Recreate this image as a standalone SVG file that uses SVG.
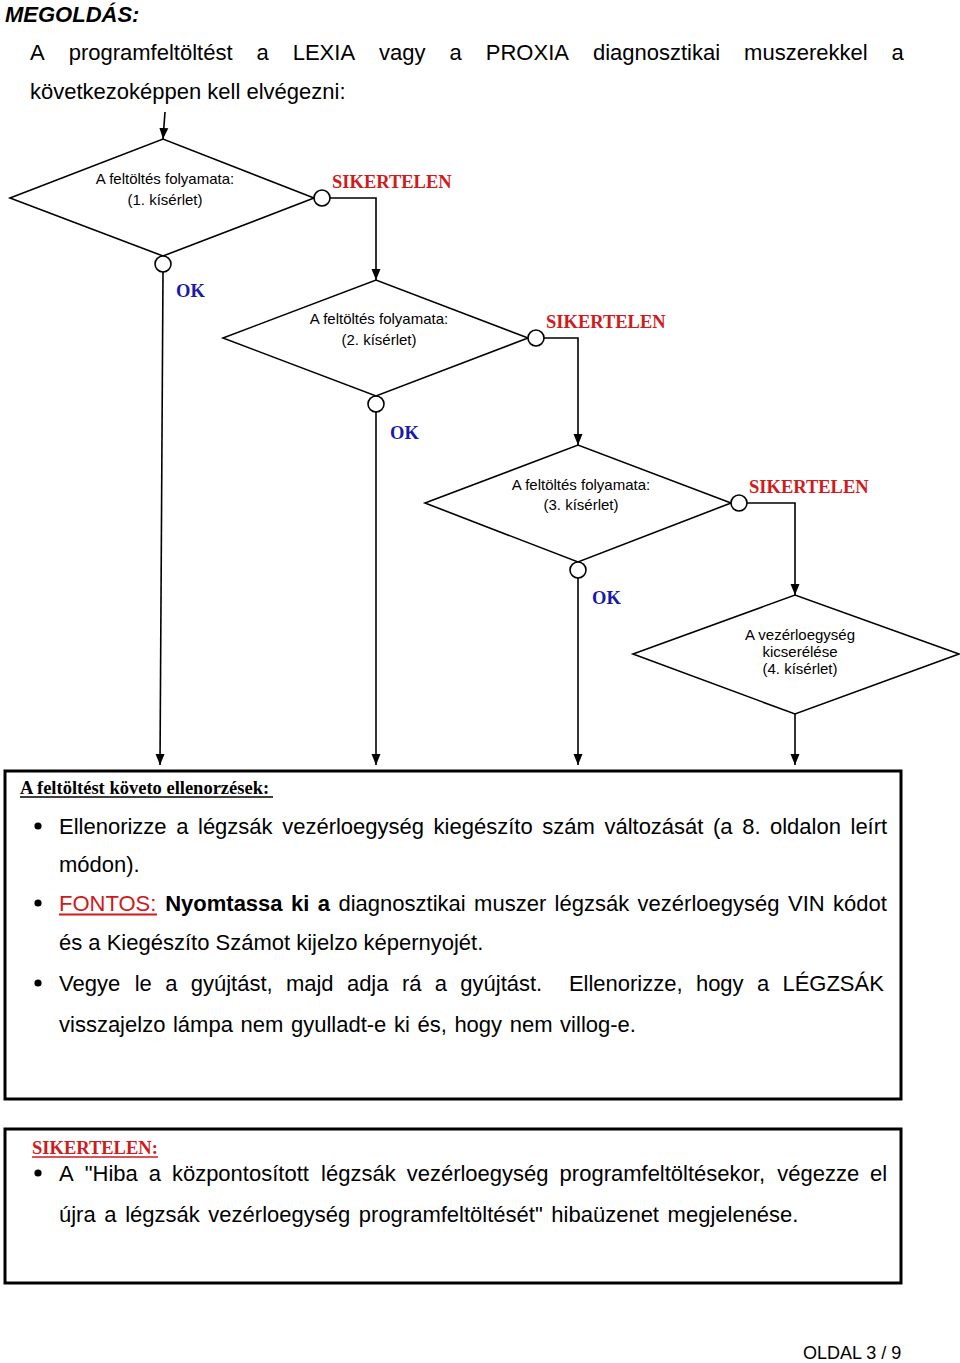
<svg xmlns="http://www.w3.org/2000/svg" width="960" height="1363" viewBox="0 0 960 1363">
<style>
.bg{fill:#ffffff}
.sans{font-family:"Liberation Sans",Arial,sans-serif;fill:#000}
.body{font-size:22px}
.dia{font-size:15px;text-anchor:middle}
.serif{font-family:"Liberation Serif","Times New Roman",serif;font-weight:bold;font-size:18.5px}
.red{fill:#d01a1c}
.blue{fill:#1a1aa8}
.shape{fill:#fff;stroke:#000;stroke-width:1.6}
.port{fill:#fff;stroke:#000;stroke-width:1.6}
.conn{fill:none;stroke:#000;stroke-width:1.6}
.box{fill:none;stroke:#000;stroke-width:3}
.bul{fill:#000}
</style>
<defs>
<marker id="arr" markerUnits="userSpaceOnUse" markerWidth="12" markerHeight="12" viewBox="0 0 12 12" refX="11" refY="6" orient="auto">
<path d="M0,1.5 L11,6 L0,10.5 Z" fill="#000"/>
</marker>
</defs>
<rect class="bg" x="0" y="0" width="960" height="1363"/>

<g id="header">
<text class="sans" x="5" y="22" font-size="22" font-weight="bold" font-style="italic">MEGOLDÁS:</text>
<text class="sans body" y="60"><tspan x="30">A</tspan><tspan x="68.7">programfeltöltést</tspan><tspan x="256.5">a</tspan><tspan x="292.7">LEXIA</tspan><tspan x="379.1">vagy</tspan><tspan x="449.6">a</tspan><tspan x="485.8">PROXIA</tspan><tspan x="592.9">diagnosztikai</tspan><tspan x="744.1">muszerekkel</tspan><tspan x="891.6">a</tspan></text>
<text class="sans body" x="30" y="99">következoképpen kell elvégezni:</text>
</g>

<g id="connectors">
<line class="conn" x1="165" y1="112" x2="163" y2="139" marker-end="url(#arr)"/>
<polyline class="conn" points="330,198 376,198 376,280" marker-end="url(#arr)"/>
<polyline class="conn" points="163,272 160,765" marker-end="url(#arr)"/>
<polyline class="conn" points="544,338 578,338 578,445" marker-end="url(#arr)"/>
<polyline class="conn" points="376,412 376,765" marker-end="url(#arr)"/>
<polyline class="conn" points="747,503 795,503 795,595" marker-end="url(#arr)"/>
<polyline class="conn" points="578,578 578,765" marker-end="url(#arr)"/>
<polyline class="conn" points="795,714 795,765" marker-end="url(#arr)"/>
<text class="serif red" x="332" y="188">SIKERTELEN</text>
<text class="serif blue" x="176" y="297">OK</text>
<text class="serif red" x="546" y="328">SIKERTELEN</text>
<text class="serif blue" x="390" y="439">OK</text>
<text class="serif red" x="749" y="493">SIKERTELEN</text>
<text class="serif blue" x="592" y="604">OK</text>
</g>

<g id="decision1">
<polygon class="shape" points="10,198 163,139 314,198 163,256"/>
<circle class="port" cx="322" cy="198" r="8"/>
<circle class="port" cx="163" cy="264" r="8"/>
<text class="sans dia" x="165" y="184">A feltöltés folyamata:</text>
<text class="sans dia" x="165" y="205">(1. kísérlet)</text>
</g>

<g id="decision2">
<polygon class="shape" points="223,338 376,280 528,338 376,396"/>
<circle class="port" cx="536" cy="338" r="8"/>
<circle class="port" cx="376" cy="404" r="8"/>
<text class="sans dia" x="379" y="324">A feltöltés folyamata:</text>
<text class="sans dia" x="379" y="345">(2. kísérlet)</text>
</g>

<g id="decision3">
<polygon class="shape" points="425,503 578,445 731,503 578,562"/>
<circle class="port" cx="739" cy="503" r="8"/>
<circle class="port" cx="578" cy="570" r="8"/>
<text class="sans dia" x="581" y="490">A feltöltés folyamata:</text>
<text class="sans dia" x="581" y="510">(3. kísérlet)</text>
</g>

<g id="decision4">
<polygon class="shape" points="633,654 795,595 959,654 795,714"/>
<text class="sans dia" x="800" y="640">A vezérloegység</text>
<text class="sans dia" x="800" y="657">kicserélése</text>
<text class="sans dia" x="800" y="674">(4. kísérlet)</text>
</g>

<g id="checks-box">
<rect class="box" x="5" y="771" width="896" height="328"/>
<text class="serif" x="20" y="794" font-size="18.8">A feltöltést követo ellenorzések:</text>
<line x1="20" y1="797" x2="273" y2="797" stroke="#000" stroke-width="1.4"/>
<circle class="bul" cx="38" cy="826" r="3.6"/>
<text class="sans body" y="834"><tspan x="59">Ellenorizze</tspan><tspan x="176.2">a</tspan><tspan x="198">légzsák</tspan><tspan x="282.2">vezérloegység</tspan><tspan x="433.6">kiegészíto</tspan><tspan x="542.2">szám</tspan><tspan x="604.4">változását</tspan><tspan x="713">(a</tspan><tspan x="742.2">8.</tspan><tspan x="770">oldalon</tspan><tspan x="850.5">leírt</tspan></text>
<text class="sans body" x="59" y="872">módon).</text>
<circle class="bul" cx="38" cy="903" r="3.6"/>
<text class="sans body" y="911"><tspan x="59" class="red">FONTOS:</tspan><tspan x="165.2" font-weight="bold">Nyomtassa</tspan><tspan x="291.1" font-weight="bold">ki</tspan><tspan x="317.8" font-weight="bold">a</tspan><tspan x="338.5">diagnosztikai</tspan><tspan x="474.1">muszer</tspan><tspan x="554.6">légzsák</tspan><tspan x="637.6">vezérloegység</tspan><tspan x="788">VIN</tspan><tspan x="833.1">kódot</tspan></text>
<line x1="59" y1="914.5" x2="157" y2="914.5" stroke="#d01a1c" stroke-width="2"/>
<text class="sans body" x="59" y="950">és a Kiegészíto Számot kijelzo képernyojét.</text>
<circle class="bul" cx="38" cy="983" r="3.6"/>
<text class="sans body" y="991"><tspan x="59">Vegye</tspan><tspan x="134.7">le</tspan><tspan x="165.2">a</tspan><tspan x="190.7">gyújtást,</tspan><tspan x="285.9">majd</tspan><tspan x="346.9">adja</tspan><tspan x="401.9">rá</tspan><tspan x="434.8">a</tspan><tspan x="460.3">gyújtást.</tspan><tspan x="568.9">Ellenorizze,</tspan><tspan x="695.9">hogy</tspan><tspan x="756.9">a</tspan><tspan x="782.4">LÉGZSÁK</tspan></text>
<text class="sans body" x="59" y="1032" word-spacing="1.5">visszajelzo lámpa nem gyulladt-e ki és, hogy nem villog-e.</text>
</g>

<g id="failure-box">
<rect class="box" x="5" y="1129" width="896" height="154"/>
<text class="serif red" x="32" y="1154">SIKERTELEN:</text>
<line x1="32" y1="1157" x2="158" y2="1157" stroke="#d01a1c" stroke-width="1.4"/>
<circle class="bul" cx="38" cy="1173" r="3.6"/>
<text class="sans body" y="1181"><tspan x="59">A</tspan><tspan x="84.7">"Hiba</tspan><tspan x="148.7">a</tspan><tspan x="171.9">központosított</tspan><tspan x="321.1">légzsák</tspan><tspan x="406.7">vezérloegység</tspan><tspan x="559.6">programfeltöltésekor,</tspan><tspan x="777.2">végezze</tspan><tspan x="870.1">el</tspan></text>
<text class="sans body" x="59" y="1222" word-spacing="2.5">újra a légzsák vezérloegység programfeltöltését" hibaüzenet megjelenése.</text>
</g>

<g id="footer">
<text class="sans" x="803" y="1359" font-size="18">OLDAL 3 / 9</text>
</g>
</svg>
